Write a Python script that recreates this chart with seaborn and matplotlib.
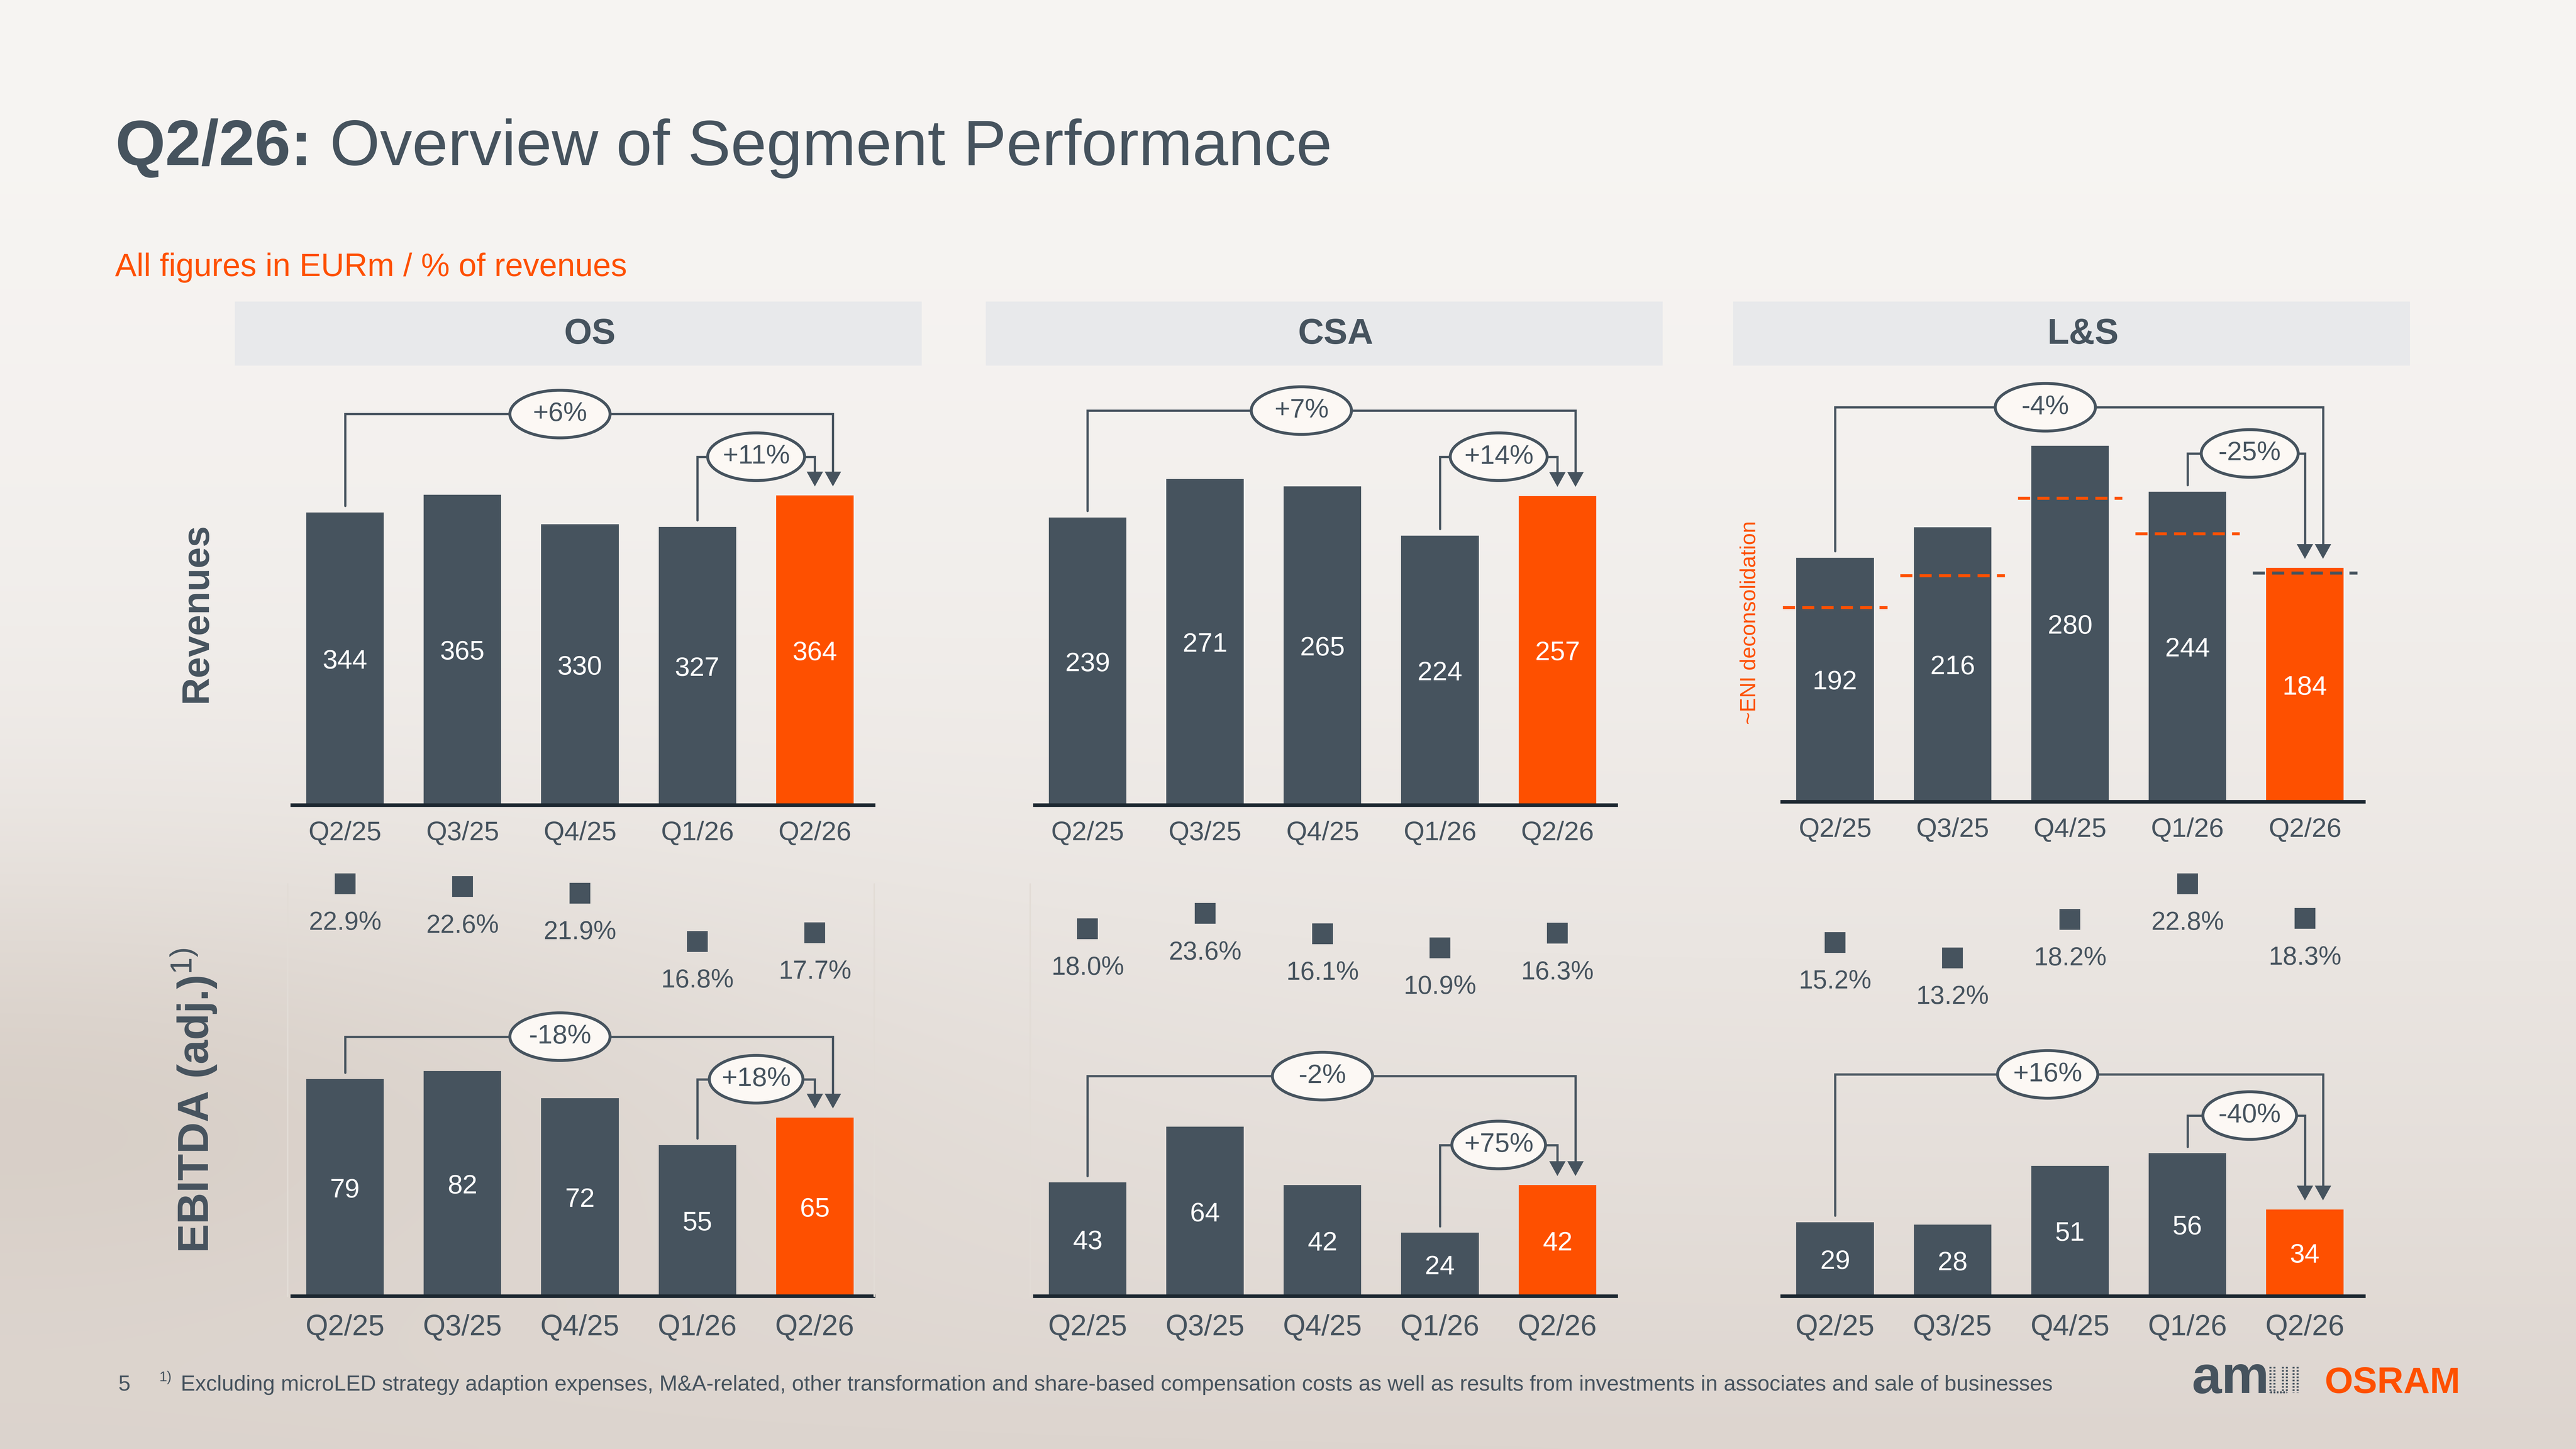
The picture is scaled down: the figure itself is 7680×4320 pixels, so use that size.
import matplotlib
matplotlib.use('Agg')
import matplotlib.pyplot as plt
from matplotlib.patches import Ellipse, Polygon, Rectangle
import numpy as np
import pandas as pd
import seaborn as sns

# ---- data ----
quarters = ['Q2/25', 'Q3/25', 'Q4/25', 'Q1/26', 'Q2/26']
segments = ['OS', 'CSA', 'L&S']
os_revenue = [344, 365, 330, 327, 364]
csa_revenue = [239, 271, 265, 224, 257]
ls_revenue = [192, 216, 280, 244, 184]
ls_revenue_eni = [153, 178, 239, 211, 180]   # ~ENI deconsolidation
os_ebitda = [79, 82, 72, 55, 65]
csa_ebitda = [43, 64, 42, 24, 42]
ls_ebitda = [29, 28, 51, 56, 34]
os_margin = [22.9, 22.6, 21.9, 16.8, 17.7]
csa_margin = [18.0, 23.6, 16.1, 10.9, 16.3]
ls_margin = [15.2, 13.2, 18.2, 22.8, 18.3]
os_rev_change = ['+6%', '+11%']
csa_rev_change = ['+7%', '+14%']
ls_rev_change = ['-4%', '-25%']
os_ebitda_change = ['-18%', '+18%']
csa_ebitda_change = ['-2%', '+75%']
ls_ebitda_change = ['+16%', '-40%']

revenues = [os_revenue, csa_revenue, ls_revenue]
ebitdas = [os_ebitda, csa_ebitda, ls_ebitda]
margins = [os_margin, csa_margin, ls_margin]
rev_changes = [os_rev_change, csa_rev_change, ls_rev_change]
ebitda_changes = [os_ebitda_change, csa_ebitda_change, ls_ebitda_change]

# ---- style ----
DARK = '#46535e'
ORANGE = '#fe5000'
BASE = '#1d2831'
ELL = '#fcf8f4'
HEAD = '#e8e9eb'
bar_colors = [DARK, DARK, DARK, DARK, ORANGE]

sns.set_style('white')
plt.rcParams['font.family'] = ['Liberation Sans', 'DejaVu Sans']
plt.rcParams['mathtext.fontset'] = 'custom'
plt.rcParams['mathtext.rm'] = 'Liberation Sans'

# layout in reference pixels (1568 x 882 canvas)
W, H = 1568, 882
STEP = 71.5
XL = (-0.45, 4.5)
seg_x0 = [210, 662, 1117]
rev_top, rev_base = 225, [490, 490, 488]
rev_ymax = [512, 362, 340]
ebit_top, ebit_base = 615, 789
ebit_ymax = [104, 108, 112]
mar_top, mar_bot = 525, 600
mar_lim = [(12.1, 25.16), (-3.05, 42.4), (9.58, 25.57)]
rev_levels = [(0.898, 0.800), (0.906, 0.800), (0.913, 0.806)]
ebit_levels = [(0.908, 0.759), (0.770, 0.529), (0.776, 0.632)]
rev_lab_x = [(1.83, 3.5), (1.82, 3.5), (1.79, 3.53)]
ebit_lab_x = [(1.83, 3.5), (2.0, 3.5), (1.81, 3.53)]

fig = plt.figure(figsize=(16, 9), dpi=480)

# background
ax_bg = fig.add_axes([0, 0, 1, 1], zorder=-10)
yy, xx = np.mgrid[0:1:90j, 0:1:160j]
top = np.array([247, 245, 243])
bot = np.array([221, 213, 207])
t = yy ** 1.7
img = top * (1 - t[..., None]) + bot * t[..., None]
band = np.exp(-((yy - 0.75) / 0.16) ** 2) * np.exp(-(xx / 0.3) ** 2)
img = img - band[..., None] * np.array([14, 17, 20])
ax_bg.imshow(np.clip(img / 255, 0, 1), aspect='auto', interpolation='bicubic')
ax_bg.axis('off')


def rect(c0, y_top, y_bot):
    left = c0 + XL[0] * STEP
    width = (XL[1] - XL[0]) * STEP
    return [left / W, 1 - y_bot / H, width / W, (y_bot - y_top) / H]


def bars(ax, vals, ymax, labelsize, pad):
    df = pd.DataFrame({'quarter': quarters, 'value': vals})
    sns.barplot(data=df, x='quarter', y='value', hue='quarter', palette=bar_colors,
                width=0.66, saturation=1, legend=False, errorbar=None, linewidth=0,
                edgecolor='none', ax=ax)
    for i, v in enumerate(vals):
        ax.text(i, v / 2, str(v), ha='center', va='center_baseline', color='white', fontsize=12)
    ax.set_xlim(*XL)
    ax.set_ylim(0, ymax)
    ax.set_facecolor('none')
    ax.set_xlabel('')
    ax.set_ylabel('')
    ax.set_yticks([])
    sns.despine(ax=ax, left=True)
    ax.spines['bottom'].set_color(BASE)
    ax.spines['bottom'].set_linewidth(1.6)
    ax.tick_params(axis='x', length=0, pad=pad, labelsize=labelsize, labelcolor=DARK)


def bracket(ax, vals, i0, i1, level, label, lab_x, ymax, h_px, right_dx=0.0, ew=61):
    d = ymax / h_px
    u = 1 / STEP
    y_lvl = level * ymax
    xr = i1 + right_dx
    tip = vals[i1] + 5.5 * d
    head = 9 * d
    ax.plot([i0, i0, xr, xr], [vals[i0] + 4 * d, y_lvl, y_lvl, tip + head],
            color=DARK, lw=1.0, clip_on=False, solid_joinstyle='miter', zorder=4)
    ax.add_patch(Polygon([[xr - 5 * u, tip + head], [xr + 5 * u, tip + head], [xr, tip]],
                         closed=True, facecolor=DARK, lw=0, clip_on=False, zorder=4))
    ax.add_patch(Ellipse((lab_x, y_lvl), ew * u, 29 * d, facecolor=ELL, edgecolor=DARK,
                         lw=1.3, clip_on=False, zorder=5))
    ax.text(lab_x, y_lvl, label, ha='center', va='center', fontsize=12, color=DARK, zorder=6)


for k, seg in enumerate(segments):
    # revenues
    ax = fig.add_axes(rect(seg_x0[k], rev_top, rev_base[k]))
    bars(ax, revenues[k], rev_ymax[k], 12, 7)
    h = rev_base[k] - rev_top
    bracket(ax, revenues[k], 0, 4, rev_levels[k][0], rev_changes[k][0], rev_lab_x[k][0],
            rev_ymax[k], h, right_dx=11 / STEP)
    bracket(ax, revenues[k], 3, 4, rev_levels[k][1], rev_changes[k][1], rev_lab_x[k][1],
            rev_ymax[k], h, ew=59)
    if seg == 'L&S':
        eni_colors = [ORANGE] * 4 + [DARK]
        ax.hlines(ls_revenue_eni, [i - 0.445 for i in range(5)], [i + 0.445 for i in range(5)],
                  colors=eni_colors, linestyles=(0, (4, 2.4)), lw=1.35, zorder=3)

    # EBITDA margin
    axm = fig.add_axes(rect(seg_x0[k], mar_top, mar_bot))
    sns.scatterplot(x=quarters, y=margins[k], marker='s', s=85, color=DARK, linewidth=0, ax=axm)
    for i, m in enumerate(margins[k]):
        axm.annotate(f'{m:.1f}%', (i, m), xytext=(0, -17.5), textcoords='offset points',
                     ha='center', va='center', fontsize=11.5, color=DARK)
    axm.set_xlim(*XL)
    axm.set_ylim(*mar_lim[k])
    axm.axis('off')

    # EBITDA
    axe = fig.add_axes(rect(seg_x0[k], ebit_top, ebit_base))
    bars(axe, ebitdas[k], ebit_ymax[k], 13, 8)
    he = ebit_base - ebit_top
    bracket(axe, ebitdas[k], 0, 4, ebit_levels[k][0], ebitda_changes[k][0], ebit_lab_x[k][0],
            ebit_ymax[k], he, right_dx=11 / STEP)
    bracket(axe, ebitdas[k], 3, 4, ebit_levels[k][1], ebitda_changes[k][1], ebit_lab_x[k][1],
            ebit_ymax[k], he, ew=57)

# overlay for slide texts
ov = fig.add_axes([0, 0, 1, 1], zorder=10)
ov.set_xlim(0, W)
ov.set_ylim(H, 0)
ov.axis('off')

t1 = ov.text(70, 100.5, 'Q2/26:', fontsize=28.8, fontweight='bold', color=DARK, va='baseline')
ov.annotate(' Overview of Segment Performance', xy=(1, 0), xycoords=t1, fontsize=28.8,
            color=DARK, va='bottom')
ov.text(70, 168, 'All figures in EURm / % of revenues', fontsize=14.4, color=ORANGE, va='baseline')

for (x0, x1), seg in zip([(143, 561), (600, 1012), (1055, 1467)], segments):
    ov.add_patch(Rectangle((x0, 183.5), x1 - x0, 39, facecolor=HEAD, lw=0))
    ov.text((x0 + x1) / 2 + 7, 203.5, seg, ha='center', va='center', fontsize=16,
            fontweight='bold', color=DARK)

ov.text(120, 373, 'Revenues', rotation=90, ha='center', va='center', fontsize=17,
        fontweight='bold', color=DARK)
ov.text(118, 670, r'EBITDA (adj.)$^{1)}$', rotation=90, ha='center', va='center', fontsize=19.5,
        fontweight='bold', color=DARK)
ov.text(1065, 379, '~ENI deconsolidation', rotation=90, ha='center', va='center', fontsize=9.6,
        color=ORANGE)

# faint frame lines of the margin area
for x, y0 in [(175, 538), (532, 538), (627, 538)]:
    ov.plot([x, x], [y0, 789], color='#e2dcd6', lw=0.7)

ov.text(72, 843, '5', fontsize=9.7, color=DARK, va='center')
ov.text(97, 838.5, '1)', fontsize=6.3, color=DARK, va='center')
ov.text(110, 843, 'Excluding microLED strategy adaption expenses, M&A-related, other transformation '
        'and share-based compensation costs as well as results from investments in associates '
        'and sale of businesses', fontsize=9.7, color=DARK, va='center')

# logo
ov.text(1334, 848, 'am', fontsize=24, fontweight='bold', color=DARK, va='baseline')
for xd in [1382, 1384.5, 1389.5, 1392, 1396, 1398.5]:
    ov.plot([xd, xd], [832, 848], color=DARK, lw=0.9, ls=(0, (0.8, 0.8)))
ov.plot([1382, 1392], [847.5, 847.5], color=DARK, lw=0.9, ls=(0, (0.8, 0.8)))
ov.text(1415, 848, 'OSRAM', fontsize=16.3, fontweight='bold', color=ORANGE, va='baseline')

fig.savefig('out.png', dpi=480)
